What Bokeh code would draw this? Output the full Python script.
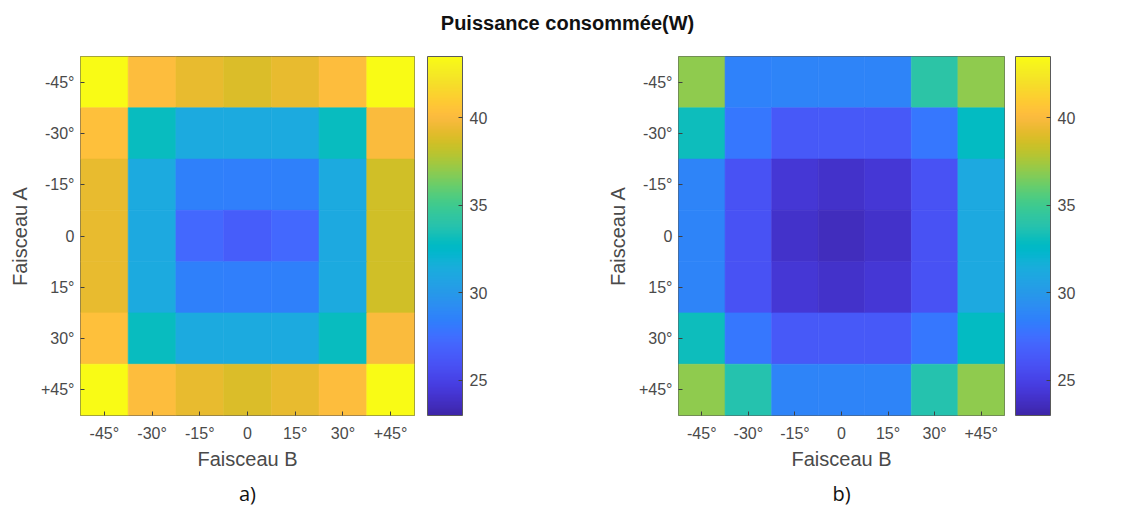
import numpy as np
from bokeh.plotting import figure
from bokeh.models import (ColorBar, LinearColorMapper, ColumnDataSource, FixedTicker,
                          Title, Label, Range1d)
from bokeh.layouts import column, row
from bokeh.embed import file_html
from bokeh.resources import INLINE

# ---------------- data ----------------
angles = ["-45°", "-30°", "-15°", "0", "15°", "30°", "+45°"]

# Faisceau A (rows, top -> bottom) x Faisceau B (columns, left -> right)
power_a = [
    [43.5, 40.2, 39.3, 38.9, 39.3, 40.2, 43.5],
    [40.3, 33.0, 31.2, 31.2, 31.2, 33.0, 40.0],
    [39.3, 31.2, 28.5, 28.4, 28.5, 31.2, 38.6],
    [39.3, 31.1, 27.2, 26.6, 27.2, 31.1, 38.6],
    [39.3, 31.2, 28.5, 28.4, 28.5, 31.2, 38.6],
    [40.3, 33.0, 31.2, 31.2, 31.2, 33.0, 40.0],
    [43.5, 40.2, 39.3, 38.9, 39.3, 40.2, 43.5],
]
power_b = [
    [37.0, 28.6, 28.7, 28.7, 28.7, 34.1, 37.0],
    [33.1, 28.0, 26.3, 26.3, 26.3, 28.0, 32.8],
    [28.7, 25.9, 24.3, 24.0, 24.3, 25.9, 31.1],
    [28.7, 25.9, 24.0, 23.6, 24.0, 25.9, 31.1],
    [28.7, 25.9, 24.3, 24.0, 24.3, 25.9, 31.1],
    [33.1, 28.0, 26.3, 26.3, 26.3, 28.0, 32.8],
    [37.0, 33.8, 28.7, 28.7, 28.7, 33.8, 37.0],
]
cbar_ticks = [25, 30, 35, 40]
c_low, c_high = 23.0, 43.5

title_text = "Puissance consommée(W)"
xlabel = "Faisceau B"
ylabel = "Faisceau A"
captions = ["a)", "b)"]

# ---------------- parula palette (style) ----------------
PARULA64 = [
    [0.2422, 0.1504, 0.6603], [0.2504, 0.1650, 0.7076], [0.2578, 0.1818, 0.7511],
    [0.2647, 0.1978, 0.7952], [0.2706, 0.2147, 0.8364], [0.2751, 0.2342, 0.8710],
    [0.2783, 0.2559, 0.8991], [0.2803, 0.2782, 0.9221], [0.2813, 0.3006, 0.9414],
    [0.2810, 0.3228, 0.9579], [0.2795, 0.3447, 0.9717], [0.2760, 0.3667, 0.9829],
    [0.2699, 0.3892, 0.9906], [0.2602, 0.4123, 0.9952], [0.2440, 0.4358, 0.9988],
    [0.2206, 0.4603, 0.9973], [0.1963, 0.4847, 0.9892], [0.1834, 0.5074, 0.9798],
    [0.1786, 0.5289, 0.9682], [0.1764, 0.5499, 0.9520], [0.1687, 0.5703, 0.9359],
    [0.1540, 0.5902, 0.9218], [0.1460, 0.6091, 0.9079], [0.1380, 0.6276, 0.8973],
    [0.1248, 0.6459, 0.8883], [0.1113, 0.6635, 0.8763], [0.0952, 0.6798, 0.8598],
    [0.0689, 0.6948, 0.8394], [0.0297, 0.7082, 0.8163], [0.0036, 0.7203, 0.7917],
    [0.0067, 0.7312, 0.7660], [0.0433, 0.7411, 0.7394], [0.0964, 0.7500, 0.7120],
    [0.1408, 0.7584, 0.6842], [0.1717, 0.7670, 0.6554], [0.1938, 0.7758, 0.6251],
    [0.2161, 0.7843, 0.5923], [0.2470, 0.7918, 0.5567], [0.2906, 0.7973, 0.5188],
    [0.3406, 0.8008, 0.4789], [0.3909, 0.8029, 0.4354], [0.4456, 0.8024, 0.3909],
    [0.5044, 0.7993, 0.3480], [0.5616, 0.7942, 0.3045], [0.6174, 0.7876, 0.2612],
    [0.6720, 0.7793, 0.2227], [0.7242, 0.7698, 0.1910], [0.7738, 0.7598, 0.1646],
    [0.8203, 0.7498, 0.1535], [0.8634, 0.7406, 0.1596], [0.9035, 0.7330, 0.1774],
    [0.9393, 0.7288, 0.2100], [0.9728, 0.7298, 0.2394], [0.9956, 0.7434, 0.2371],
    [0.9970, 0.7659, 0.2199], [0.9952, 0.7893, 0.2028], [0.9892, 0.8136, 0.1885],
    [0.9786, 0.8386, 0.1766], [0.9676, 0.8639, 0.1643], [0.9610, 0.8890, 0.1537],
    [0.9597, 0.9135, 0.1423], [0.9628, 0.9373, 0.1265], [0.9691, 0.9606, 0.1064],
    [0.9769, 0.9839, 0.0805],
]
_base = np.array(PARULA64)
_t0 = np.linspace(0, 1, len(_base))
_t1 = np.linspace(0, 1, 256)
_interp = np.stack([np.interp(_t1, _t0, _base[:, k]) for k in range(3)], axis=1)
parula = ["#%02x%02x%02x" % tuple(int(round(c * 255)) for c in rgb) for rgb in _interp]

FONT = "Liberation Sans"
TXT = "#4a4a4a"
FIG_H = 467
TOP_B = 8
BOT_B = 100
FRAME_H = FIG_H - TOP_B - BOT_B


def heatmap(matrix, caption, width, left, frame_w, cb_gap):
    xs, ys, vs = [], [], []
    for i, ra in enumerate(angles):
        for j, cb_ in enumerate(angles):
            xs.append(cb_)
            ys.append(ra)
            vs.append(matrix[i][j])
    src = ColumnDataSource(dict(x=xs, y=ys, v=vs))
    mapper = LinearColorMapper(palette=parula, low=c_low, high=c_high)

    p = figure(width=width, height=FIG_H, x_range=angles, y_range=angles[::-1],
               output_backend="svg", toolbar_location=None,
               min_border_left=left, min_border_right=width - left - frame_w,
               min_border_top=TOP_B, min_border_bottom=BOT_B)
    p.rect(x="x", y="y", width=1, height=1, source=src,
           fill_color={"field": "v", "transform": mapper},
           line_color={"field": "v", "transform": mapper}, line_width=0.6)

    p.grid.visible = False
    p.outline_line_color = "#5a5a5a"
    p.outline_line_width = 1
    p.background_fill_color = "white"
    p.border_fill_color = "white"

    for ax in (p.xaxis[0], p.yaxis[0]):
        ax.axis_line_color = None
        ax.major_tick_in = 4
        ax.major_tick_out = 0
        ax.major_tick_line_color = "#404040"
        ax.major_label_text_font = FONT
        ax.major_label_text_font_size = "16px"
        ax.major_label_text_color = TXT
        ax.axis_label_text_font = FONT
        ax.axis_label_text_font_size = "20px"
        ax.axis_label_text_font_style = "normal"
        ax.axis_label_text_color = TXT
    p.xaxis[0].axis_label = xlabel
    p.yaxis[0].axis_label = ylabel
    p.xaxis[0].major_label_standoff = 9
    p.xaxis[0].axis_label_standoff = 3
    p.yaxis[0].major_label_standoff = 6
    p.yaxis[0].axis_label_standoff = 7

    p.add_layout(Title(text=caption, align="center", text_font="Open Sans",
                       text_font_size="20px", text_font_style="normal",
                       text_color="#111111", standoff=10), "below")

    cbar = ColorBar(color_mapper=mapper, ticker=FixedTicker(ticks=cbar_ticks),
                    location=(frame_w + cb_gap, 0), width=35, height=FRAME_H,
                    padding=0, margin=0, label_standoff=7,
                    major_label_text_font=FONT, major_label_text_font_size="16px",
                    major_label_text_color=TXT,
                    major_tick_line_color="#404040", major_tick_in=4, major_tick_out=0,
                    bar_line_color="#5a5a5a", bar_line_width=1,
                    background_fill_alpha=0, border_line_color=None)
    p.add_layout(cbar)
    return p


pa = heatmap(power_a, captions[0], 560, 80, 334, 13)
pb = heatmap(power_b, captions[1], 575, 118, 326, 11)

pt = figure(width=1135, height=48, x_range=Range1d(0, 1135), y_range=Range1d(0, 48),
            x_axis_type=None, y_axis_type=None, output_backend="svg",
            toolbar_location=None, min_border=0)
pt.grid.visible = False
pt.outline_line_color = None
pt.add_layout(Label(x=567, y=26, text=title_text, text_align="center",
                    text_baseline="middle", text_font=FONT,
                    text_font_size="20px", text_font_style="bold", text_color="#111111"))

layout = column(pt, row(pa, pb))
open("out.html", "w").write(file_html(layout, INLINE))
